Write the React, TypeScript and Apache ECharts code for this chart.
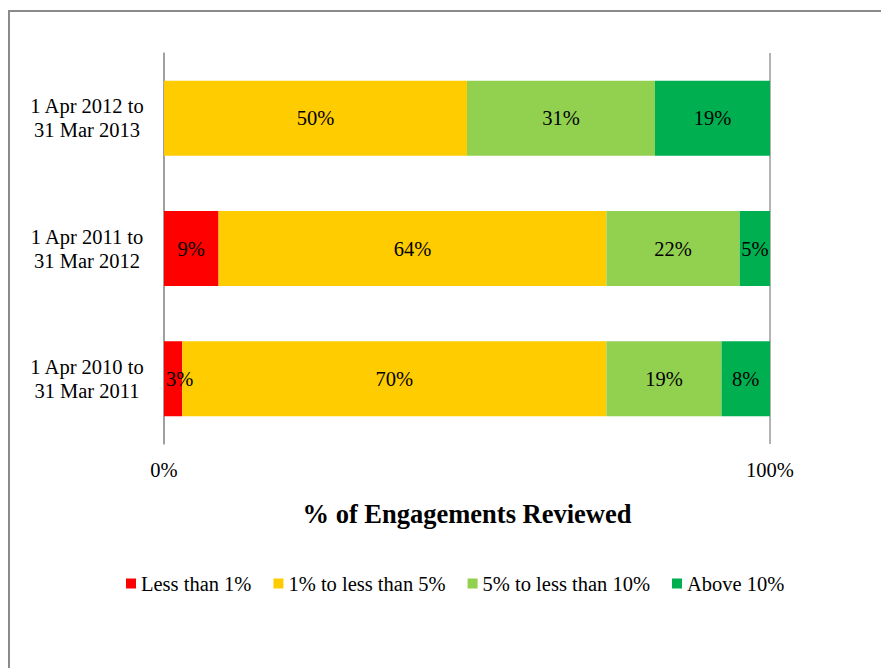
import React, { useEffect, useRef } from "react";
import * as echarts from "echarts";

const categories = ["1 Apr 2010 to\n31 Mar 2011", "1 Apr 2011 to\n31 Mar 2012", "1 Apr 2012 to\n31 Mar 2013"];
const seriesNames = ["Less than 1%", "1% to less than 5%", "5% to less than 10%", "Above 10%"];
const lessThan1 = [3, 9, 0];
const oneToFive = [70, 64, 50];
const fiveToTen = [19, 22, 31];
const above10 = [8, 5, 19];
const colors = ["#FF0000", "#FFCC00", "#92D050", "#00B050"];
const xTicks = [0, 100];
const axisTitle = "% of Engagements Reviewed";

const FONT = "Liberation Serif";

export default function App() {
  const ref = useRef<HTMLDivElement>(null);
  useEffect(() => {
    if (!ref.current) return;
    const chart = echarts.init(ref.current, undefined, { renderer: "svg" });
    const values = [lessThan1, oneToFive, fiveToTen, above10];
    chart.setOption({
      animation: false,
      textStyle: { fontFamily: FONT },
      graphic: [
        {
          type: "rect",
          shape: { x: 1, y: 3, width: 1200, height: 1200 },
          style: { fill: "none", stroke: "#8a8a8a", lineWidth: 2 },
          silent: true,
        },
      ],
      grid: { left: 156, top: 45, width: 606, height: 391 },
      legend: {
        left: 118,
        top: 565,
        padding: 0,
        itemWidth: 10,
        itemHeight: 10,
        itemGap: 22,
        icon: "rect",
        textStyle: { fontFamily: FONT, fontSize: 20.5, color: "#000" },
        data: seriesNames,
      },
      xAxis: {
        type: "value",
        min: xTicks[0],
        max: xTicks[1],
        interval: 100,
        axisLine: { show: false },
        axisTick: { show: false },
        splitLine: { show: true, lineStyle: { color: "#9a9a9a", width: 1.5 } },
        axisLabel: {
          formatter: (v: number) => v + "%",
          fontFamily: FONT,
          fontSize: 20.5,
          color: "#000",
          margin: 15,
        },
        name: axisTitle,
        nameLocation: "middle",
        nameGap: 56,
        nameTextStyle: { fontFamily: FONT, fontSize: 26.5, fontWeight: "bold", color: "#000" },
      },
      yAxis: {
        type: "category",
        data: categories,
        axisLine: { show: true, lineStyle: { color: "#9a9a9a", width: 1.5 } },
        axisTick: { show: false },
        axisLabel: {
          align: "center",
          margin: 77,
          fontFamily: FONT,
          fontSize: 20.5,
          lineHeight: 24,
          color: "#000",
        },
      },
      series: seriesNames.map((name, i) => ({
        name,
        type: "bar",
        stack: "total",
        barWidth: "57.5%",
        itemStyle: { color: colors[i] },
        label: {
          show: true,
          position: "inside",
          fontFamily: FONT,
          fontSize: 20.5,
          color: "#000",
          formatter: (p: any) => (p.value > 0 ? p.value + "%" : ""),
        },
        data: values[i].map((v) =>
          v > 0 && v < 5 ? { value: v, label: { position: "insideLeft", distance: 2 } } : v
        ),
      })),
    });
    return () => chart.dispose();
  }, []);
  return <div ref={ref} style={{ width: 881, height: 660 }} />;
}
